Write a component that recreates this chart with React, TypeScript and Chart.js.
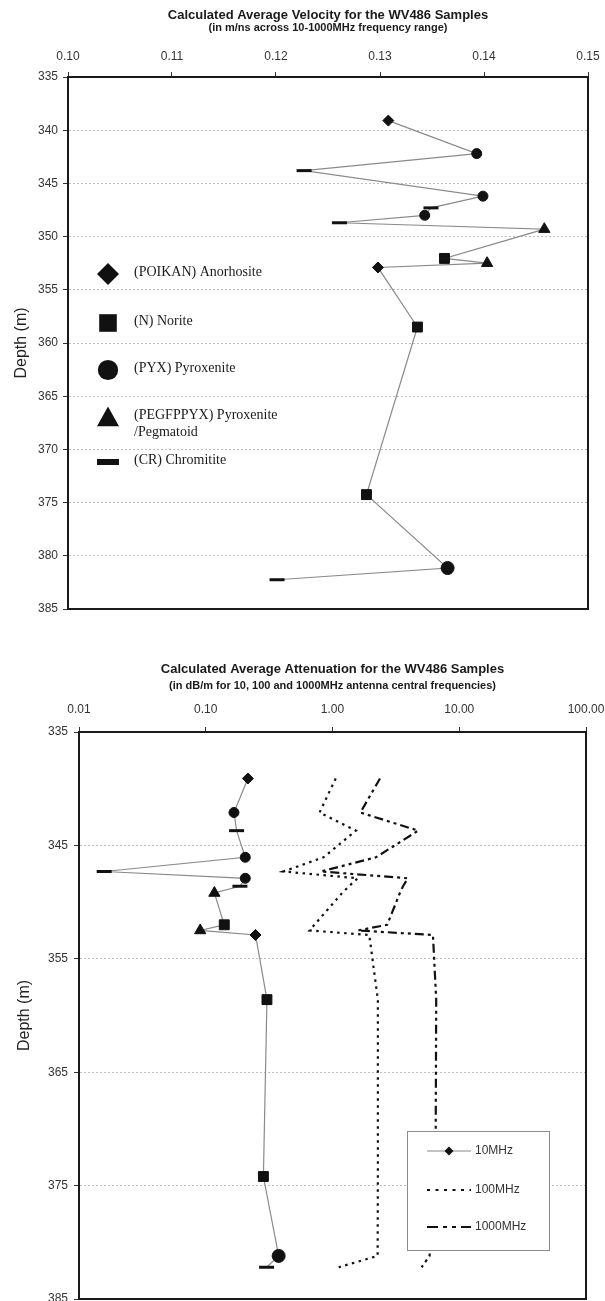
import React, { useEffect, useRef } from "react";
import { Chart, registerables } from "chart.js";

Chart.register(...registerables);

const SANS = '"Liberation Sans", Arial, Helvetica, sans-serif';
const SERIF = '"Liberation Serif", "Times New Roman", serif';

// ---------- Velocity chart data ----------
const VEL_DEPTHS = [339.1, 342.2, 343.8, 346.2, 347.3, 348.0, 348.7, 349.3, 352.05, 352.5, 352.9, 358.5, 374.25, 381.15, 382.25];
const VELOCITY = [0.1308, 0.1393, 0.1227, 0.1399, 0.1349, 0.1343, 0.1261, 0.1458, 0.1362, 0.1403, 0.1298, 0.1336, 0.1287, 0.1365, 0.1201];
const ROCK_TYPES = ["POIKAN", "PYX", "CR", "PYX", "CR", "PYX", "CR", "PEGFPPYX", "N", "PEGFPPYX", "POIKAN", "N", "N", "PYX", "CR"];
const VEL_TICKS = [0.1, 0.11, 0.12, 0.13, 0.14, 0.15];
const ROCK_KEYS = ["POIKAN", "N", "PYX", "PEGFPPYX", "CR"];
const ROCK_LABELS = [["(POIKAN) Anorhosite"], ["(N) Norite"], ["(PYX) Pyroxenite"], ["(PEGFPPYX) Pyroxenite", "/Pegmatoid"], ["(CR) Chromitite"]];

// ---------- Attenuation chart data ----------
const ATT_DEPTHS = [339.1, 342.1, 343.7, 346.05, 347.3, 347.9, 348.6, 349.2, 352.0, 352.5, 352.9, 358.6, 374.2, 381.2, 382.2];
const ATT_10MHZ = [0.215, 0.167, 0.175, 0.205, 0.0158, 0.205, 0.186, 0.117, 0.14, 0.0904, 0.247, 0.304, 0.285, 0.376, 0.302];
const ATT_100MHZ = [1.06, 0.79, 1.53, 0.85, 0.41, 1.58, 1.35, 1.19, 0.72, 0.66, 1.95, 2.28, 2.28, 2.27, 1.12];
const ATT_1000MHZ = [2.37, 1.66, 4.74, 2.2, 0.81, 3.93, 3.6, 3.4, 2.7, 1.58, 6.2, 6.58, 6.5, 5.83, 5.05];
const ATT_TICKS = [0.01, 0.1, 1, 10, 100];
const FREQ_LABELS = ["10MHz", "100MHz", "1000MHz"];

const VEL_TITLE = "Calculated Average Velocity for the WV486 Samples";
const VEL_SUB = "(in m/ns across 10-1000MHz frequency range)";
const ATT_TITLE = "Calculated Average Attenuation for the WV486 Samples";
const ATT_SUB = "(in dB/m for 10, 100 and 1000MHz antenna central frequencies)";

// ---------- styles ----------
const MARK: Record<string, { style: string; r: number }> = {
  POIKAN: { style: "rectRot", r: 5.5 },
  N: { style: "rect", r: 7 },
  PYX: { style: "circle", r: 5 },
  PEGFPPYX: { style: "triangle", r: 6.5 },
  CR: { style: "line", r: 7.5 },
};
const BIG_IDX = ROCK_TYPES.lastIndexOf("PYX");
const DOT_DASH = [2.5, 4.5];
const DASH_DOT_DOT = [9, 4, 3, 4, 3, 4];

function markerOpts() {
  const t = (c: any) => ROCK_TYPES[c.dataIndex] ?? "PYX";
  return {
    pointStyle: (c: any) => MARK[t(c)].style,
    pointRadius: (c: any) => (c.dataIndex === BIG_IDX ? 6.5 : MARK[t(c)].r),
    pointBorderWidth: (c: any) => (t(c) === "CR" ? 3 : 1),
    pointBackgroundColor: "#111",
    pointBorderColor: "#111",
    pointHoverRadius: (c: any) => MARK[t(c)].r,
  };
}

function drawLegendMarker(ctx: CanvasRenderingContext2D, type: string, x: number, y: number, s: number) {
  ctx.save();
  ctx.fillStyle = "#111";
  ctx.beginPath();
  if (type === "POIKAN") {
    ctx.moveTo(x, y - s);
    ctx.lineTo(x + s, y);
    ctx.lineTo(x, y + s);
    ctx.lineTo(x - s, y);
    ctx.closePath();
    ctx.fill();
  } else if (type === "N") {
    const h = s * 0.8;
    ctx.fillRect(x - h, y - h, 2 * h, 2 * h);
  } else if (type === "PYX") {
    ctx.arc(x, y, s * 0.92, 0, Math.PI * 2);
    ctx.fill();
  } else if (type === "PEGFPPYX") {
    ctx.moveTo(x, y - s * 0.95);
    ctx.lineTo(x + s, y + s * 0.85);
    ctx.lineTo(x - s, y + s * 0.85);
    ctx.closePath();
    ctx.fill();
  } else {
    ctx.fillRect(x - s, y - 3, 2 * s, 6);
  }
  ctx.restore();
}

const titlePlugin = (title: string, sub: string, ty: number, sy: number) => ({
  id: "titles",
  afterDraw(chart: any) {
    const { ctx, chartArea: a } = chart;
    const cx = (a.left + a.right) / 2;
    ctx.save();
    ctx.fillStyle = "#1a1a1a";
    ctx.textAlign = "center";
    ctx.textBaseline = "middle";
    ctx.font = `bold 13px ${SANS}`;
    ctx.fillText(title, cx, ty);
    ctx.font = `bold 11px ${SANS}`;
    ctx.fillText(sub, cx, sy);
    ctx.restore();
  },
});

const boxPlugin = {
  id: "box",
  beforeDatasetsDraw(chart: any) {
    const { ctx, chartArea: a } = chart;
    ctx.save();
    ctx.strokeStyle = "#1a1a1a";
    ctx.lineWidth = 2;
    ctx.strokeRect(a.left, a.top, a.right - a.left, a.bottom - a.top);
    ctx.restore();
  },
};

const rockLegendPlugin = {
  id: "rockLegend",
  afterDraw(chart: any) {
    const { ctx, chartArea: a } = chart;
    const offs = [197, 246, 293, 340, 385];
    ctx.save();
    ctx.font = `14px ${SERIF}`;
    ctx.fillStyle = "#1a1a1a";
    ctx.textBaseline = "middle";
    ROCK_KEYS.forEach((k, i) => {
      const y = a.top + offs[i];
      drawLegendMarker(ctx, k, a.left + 40, y, 11);
      ROCK_LABELS[i].forEach((line, j) => ctx.fillText(line, a.left + 66, y - 2 + j * 17));
    });
    ctx.restore();
  },
};

const freqLegendPlugin = {
  id: "freqLegend",
  afterDraw(chart: any) {
    const { ctx, chartArea: a } = chart;
    const w = 142, h = 119;
    const x0 = a.right - 37 - w;
    const y0 = a.bottom - 49 - h;
    ctx.save();
    ctx.fillStyle = "#fff";
    ctx.fillRect(x0, y0, w, h);
    ctx.strokeStyle = "#8c8c8c";
    ctx.lineWidth = 1;
    ctx.strokeRect(x0 + 0.5, y0 + 0.5, w, h);
    const ys = [y0 + 20, y0 + 59, y0 + 96];
    const lx1 = x0 + 20, lx2 = x0 + 64;
    ctx.font = `12px ${SANS}`;
    ctx.fillStyle = "#333";
    ctx.textBaseline = "middle";
    FREQ_LABELS.forEach((t, i) => {
      const y = ys[i];
      ctx.save();
      ctx.beginPath();
      if (i === 0) {
        ctx.strokeStyle = "#888";
        ctx.lineWidth = 1;
      } else {
        ctx.strokeStyle = "#111";
        ctx.lineWidth = 2.2;
        ctx.setLineDash(i === 1 ? [3, 5.5] : [11, 5, 4, 5, 4, 5]);
      }
      ctx.moveTo(lx1, y);
      ctx.lineTo(lx2, y);
      ctx.stroke();
      ctx.restore();
      if (i === 0) drawLegendMarker(ctx, "POIKAN", (lx1 + lx2) / 2, y, 4.5);
      ctx.fillText(t, lx2 + 4, y);
    });
    ctx.restore();
  },
};

const tickFont = { family: SANS, size: 12 };

export default function App() {
  const topRef = useRef<HTMLCanvasElement>(null);
  const botRef = useRef<HTMLCanvasElement>(null);

  useEffect(() => {
    const top = new Chart(topRef.current as HTMLCanvasElement, {
      type: "line",
      data: {
        datasets: [
          {
            label: "Velocity",
            data: VELOCITY.map((v, i) => ({ x: v, y: VEL_DEPTHS[i] })),
            borderColor: "#8a8a8a",
            borderWidth: 1.2,
            tension: 0,
            ...markerOpts(),
          } as any,
        ],
      },
      options: {
        animation: false,
        responsive: false,
        maintainAspectRatio: false,
        layout: { padding: { left: 0, right: 17, top: 45, bottom: 31 } },
        plugins: { legend: { display: false }, tooltip: { enabled: false }, title: { display: false } },
        scales: {
          x: {
            type: "linear",
            position: "top",
            min: 0.1,
            max: 0.15,
            afterBuildTicks: (s: any) => {
              s.ticks = VEL_TICKS.map((v) => ({ value: v }));
            },
            afterFit: (s: any) => {
              s.height = 32;
              s.paddingLeft = 0;
              s.paddingRight = 0;
            },
            ticks: { callback: (v: any) => Number(v).toFixed(2), font: tickFont, color: "#333", padding: 8, maxRotation: 0, autoSkip: false },
            grid: { drawOnChartArea: false, tickLength: 5, color: "#333" },
            border: { display: true, color: "#1a1a1a", width: 2 },
          },
          y: {
            type: "linear",
            reverse: true,
            min: 335,
            max: 385,
            ticks: { stepSize: 5, font: tickFont, color: "#333", padding: 5 },
            afterFit: (s: any) => {
              s.width = 68;
            },
            title: { display: true, text: "Depth (m)", font: { family: SANS, size: 16 }, color: "#222", padding: { top: 12, bottom: 0 } },
            grid: { color: "#bdbdbd", lineWidth: 1, tickLength: 5, tickColor: "#333" },
            border: { display: true, color: "#1a1a1a", width: 2, dash: [2, 2] },
          },
        },
      } as any,
      plugins: [titlePlugin(VEL_TITLE, VEL_SUB, 15, 28), boxPlugin, rockLegendPlugin],
    });

    const bot = new Chart(botRef.current as HTMLCanvasElement, {
      type: "line",
      data: {
        datasets: [
          {
            label: FREQ_LABELS[2],
            data: ATT_1000MHZ.map((v, i) => ({ x: v, y: ATT_DEPTHS[i] })),
            borderColor: "#111",
            borderWidth: 2.2,
            borderDash: DASH_DOT_DOT,
            pointRadius: 0,
            tension: 0,
          },
          {
            label: FREQ_LABELS[1],
            data: ATT_100MHZ.map((v, i) => ({ x: v, y: ATT_DEPTHS[i] })),
            borderColor: "#111",
            borderWidth: 2.2,
            borderDash: DOT_DASH,
            pointRadius: 0,
            tension: 0,
          },
          {
            label: FREQ_LABELS[0],
            data: ATT_10MHZ.map((v, i) => ({ x: v, y: ATT_DEPTHS[i] })),
            borderColor: "#8a8a8a",
            borderWidth: 1.2,
            tension: 0,
            ...markerOpts(),
          } as any,
        ],
      },
      options: {
        animation: false,
        responsive: false,
        maintainAspectRatio: false,
        layout: { padding: { left: 0, right: 19, top: 60, bottom: 21 } },
        plugins: { legend: { display: false }, tooltip: { enabled: false }, title: { display: false } },
        scales: {
          x: {
            type: "logarithmic",
            position: "top",
            min: 0.01,
            max: 100,
            afterBuildTicks: (s: any) => {
              s.ticks = ATT_TICKS.map((v) => ({ value: v }));
            },
            afterFit: (s: any) => {
              s.height = 32;
              s.paddingLeft = 0;
              s.paddingRight = 0;
            },
            ticks: { callback: (v: any) => Number(v).toFixed(2), font: tickFont, color: "#333", padding: 10, maxRotation: 0, autoSkip: false },
            grid: { drawOnChartArea: false, tickLength: 5, color: "#333" },
            border: { display: true, color: "#1a1a1a", width: 2 },
          },
          y: {
            type: "linear",
            reverse: true,
            min: 335,
            max: 385,
            ticks: { stepSize: 10, font: tickFont, color: "#333", padding: 6 },
            afterFit: (s: any) => {
              s.width = 79;
            },
            title: { display: true, text: "Depth (m)", font: { family: SANS, size: 16 }, color: "#222", padding: { top: 15, bottom: 0 } },
            grid: { color: "#bdbdbd", lineWidth: 1, tickLength: 5, tickColor: "#333" },
            border: { display: true, color: "#1a1a1a", width: 2, dash: [2, 2] },
          },
        },
      } as any,
      plugins: [titlePlugin(ATT_TITLE, ATT_SUB, 29, 46), boxPlugin, freqLegendPlugin],
    });

    return () => {
      top.destroy();
      bot.destroy();
    };
  }, []);

  return (
    <div style={{ position: "absolute", left: 0, top: 0, width: 605, height: 1301, overflow: "hidden", background: "#fff" }}>
      <canvas ref={topRef} width={605} height={640} style={{ display: "block" }} />
      <canvas ref={botRef} width={605} height={680} style={{ display: "block" }} />
    </div>
  );
}
